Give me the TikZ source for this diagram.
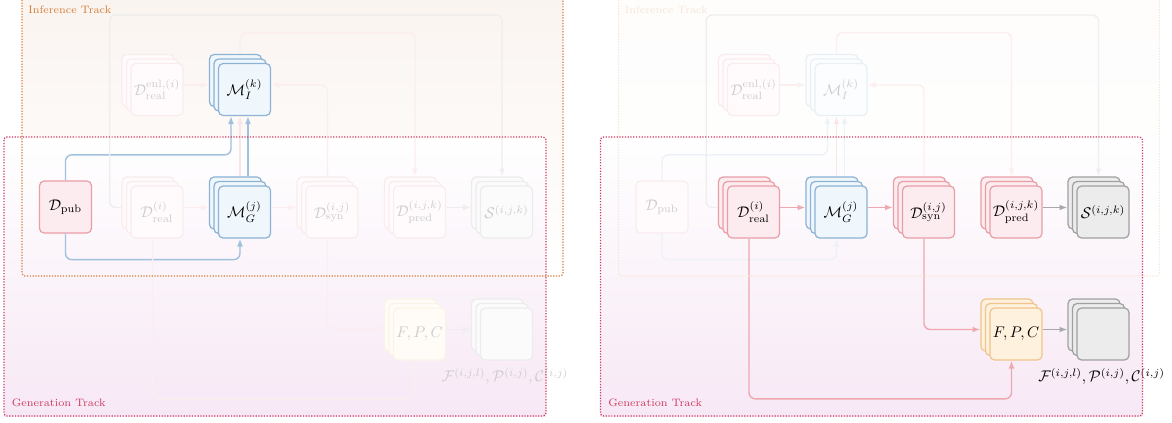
\documentclass[tikz,border=0pt]{standalone}
\usepackage{amsmath, amssymb}
\usetikzlibrary{arrows.meta, positioning}
\definecolor{pkdraw}{RGB}{232,158,166}
\definecolor{pkfill}{RGB}{253,236,239}
\definecolor{pkline}{RGB}{238,168,174}
\definecolor{bldraw}{RGB}{140,178,212}
\definecolor{blfill}{RGB}{240,247,252}
\definecolor{blline}{RGB}{160,192,222}
\definecolor{gydraw}{RGB}{160,160,160}
\definecolor{gyfill}{RGB}{236,236,236}
\definecolor{gyline}{RGB}{168,168,168}
\definecolor{ordraw}{RGB}{240,196,140}
\definecolor{orfill}{RGB}{254,241,222}
\definecolor{inftrack}{RGB}{214,124,52}
\definecolor{gentrack}{RGB}{208,58,98}
\definecolor{infbg}{RGB}{250,244,240}
\definecolor{genbg}{RGB}{247,232,245}
\tikzset{
    card/.style={draw, rounded corners=3pt, minimum size=33.8pt, inner sep=0pt, line width=0.8pt},
    stackbox/.style={minimum size=40.3pt, inner sep=0pt},
    pinkcard/.style={card, draw=pkdraw!#1!white, fill=pkfill!#1!white, text=black!#1!white},
    bluecard/.style={card, draw=bldraw!#1!white, fill=blfill!#1!white, text=black!#1!white},
    graycard/.style={card, draw=gydraw!#1!white, fill=gyfill!#1!white, text=black!#1!white},
    orangecard/.style={card, draw=ordraw!#1!white, fill=orfill!#1!white, text=black!#1!white},
    link/.style={rounded corners=4pt, line width=0.9pt, -{Latex[length=5pt,width=3.8pt]}},
    track/.style={densely dotted, line width=0.8pt, rounded corners=2pt},
    tracklabel/.style={font=\scriptsize, inner sep=0pt, anchor=west},
}
% three cards, the named box holds all of them
\newcommand{\cardstack}[4]{%
    \node[#3] at ([shift={(-4.5,-4.5)}]#2) {};
    \node[#3] at (#2) {};
    \node[#3] at ([shift={(4.5,4.5)}]#2) {#4};
    \node[stackbox] (#1) at (#2) {};
}

\begin{document}
\begin{tikzpicture}[x=0.65pt, y=-0.65pt]
\useasboundingbox (0,0) rectangle (1172,423);
\clip (0,0) rectangle (1172,423);
\foreach \pn/\dx/\sa/\sb in {l/0/100/20, r/596.5/20/100} {
\begin{scope}[shift={(\dx,0)}]
% tracks
\shade[top color=infbg!\sa!white, bottom color=white] (22,-6) rectangle (563,276);
\shade[top color=white, bottom color=genbg] (4,137) rectangle (546,416);

% nodes
\node[pinkcard=\sa] (\pn-pub) at (65.5,207) {$\mathcal{D}_{\mathrm{pub}}$};
\cardstack{\pn-enl}{152.5,85}{pinkcard=20}{$\mathcal{D}^{\mathrm{enl},(i)}_{\mathrm{real}}$}
\cardstack{\pn-mi}{240,85}{bluecard=\sa}{$\mathcal{M}_I^{(k)}$}
\cardstack{\pn-real}{152.5,207.5}{pinkcard=\sb}{$\mathcal{D}^{(i)}_{\mathrm{real}}$}
\cardstack{\pn-mg}{240,207.5}{bluecard=100}{$\mathcal{M}_G^{(j)}$}
\cardstack{\pn-syn}{327.5,207.5}{pinkcard=\sb}{$\mathcal{D}^{(i,j)}_{\mathrm{syn}}$}
\cardstack{\pn-pred}{415,207.5}{pinkcard=\sb}{$\mathcal{D}^{(i,j,k)}_{\mathrm{pred}}$}
\cardstack{\pn-s}{502,207.5}{graycard=\sb}{$\mathcal{S}^{(i,j,k)}$}
\cardstack{\pn-fpc}{415,329.5}{orangecard=\sb}{$F, P, C$}
\cardstack{\pn-out}{502,329.5}{graycard=\sb}{}
\node[inner sep=0pt, text=black!\sb!white, below=4.5pt of \pn-out, xshift=2pt] (\pn-outlabel)
    {$\mathcal{F}^{(i,j,l)}, \mathcal{P}^{(i,j)}, \mathcal{C}^{(i,j)}$};

% connectors
\draw[link, draw=blline!\sa!white] (\pn-pub.north) -- ++(0,-25.5) -| ([shift={(-9,0)}]\pn-mi.south);
\draw[link, draw=blline!\sa!white] (\pn-pub.south) -- ++(0,26) -| (\pn-mg.south);
\draw[link, draw=blline!\sa!white] ([shift={(8,0)}]\pn-mg.north) -- ([shift={(8,0)}]\pn-mi.south);
\draw[link, draw=pkline!30!white] (\pn-mg.north) -- (\pn-mi.south);
\draw[link, draw=pkline!20!white] (\pn-enl) -- (\pn-mi);
\draw[link, draw=pkline!\sb!white] (\pn-real) -- (\pn-mg);
\draw[link, draw=pkline!\sb!white] (\pn-mg) -- (\pn-syn);
\draw[link, draw=gyline!\sb!white] (\pn-pred) -- (\pn-s);
\draw[link, draw=gyline!\sb!white] (\pn-fpc) -- (\pn-out);
\draw[link, draw=pkline!20!white] (\pn-syn.north) |- (\pn-mi.east);
\draw[link, draw=pkline!20!white] (\pn-mi.north) -- ++(0,-21) -| (\pn-pred.north);
\draw[link, draw=gyline!20!white] (\pn-real.west) -| ++(-11.5,-192.5) -| (\pn-s.north);
\draw[link, draw=pkline!\sb!white] (\pn-syn.south) |- (\pn-fpc.west);
\draw[link, draw=pkline!\sb!white] (\pn-real.south) -- ++(0,160) -| (\pn-fpc.south);

% track borders
\draw[track, draw=inftrack!\sa!white] (22,-6) rectangle (563,276);
\node[tracklabel, text=inftrack!\sa!white] (\pn-inflabel) at (28,10) {Inference Track};
\draw[track, draw=gentrack] (4,137) rectangle (546,416);
\node[tracklabel, text=gentrack] (\pn-genlabel) at (11.5,403) {Generation Track};
\end{scope}
}
\end{tikzpicture}
\end{document}
